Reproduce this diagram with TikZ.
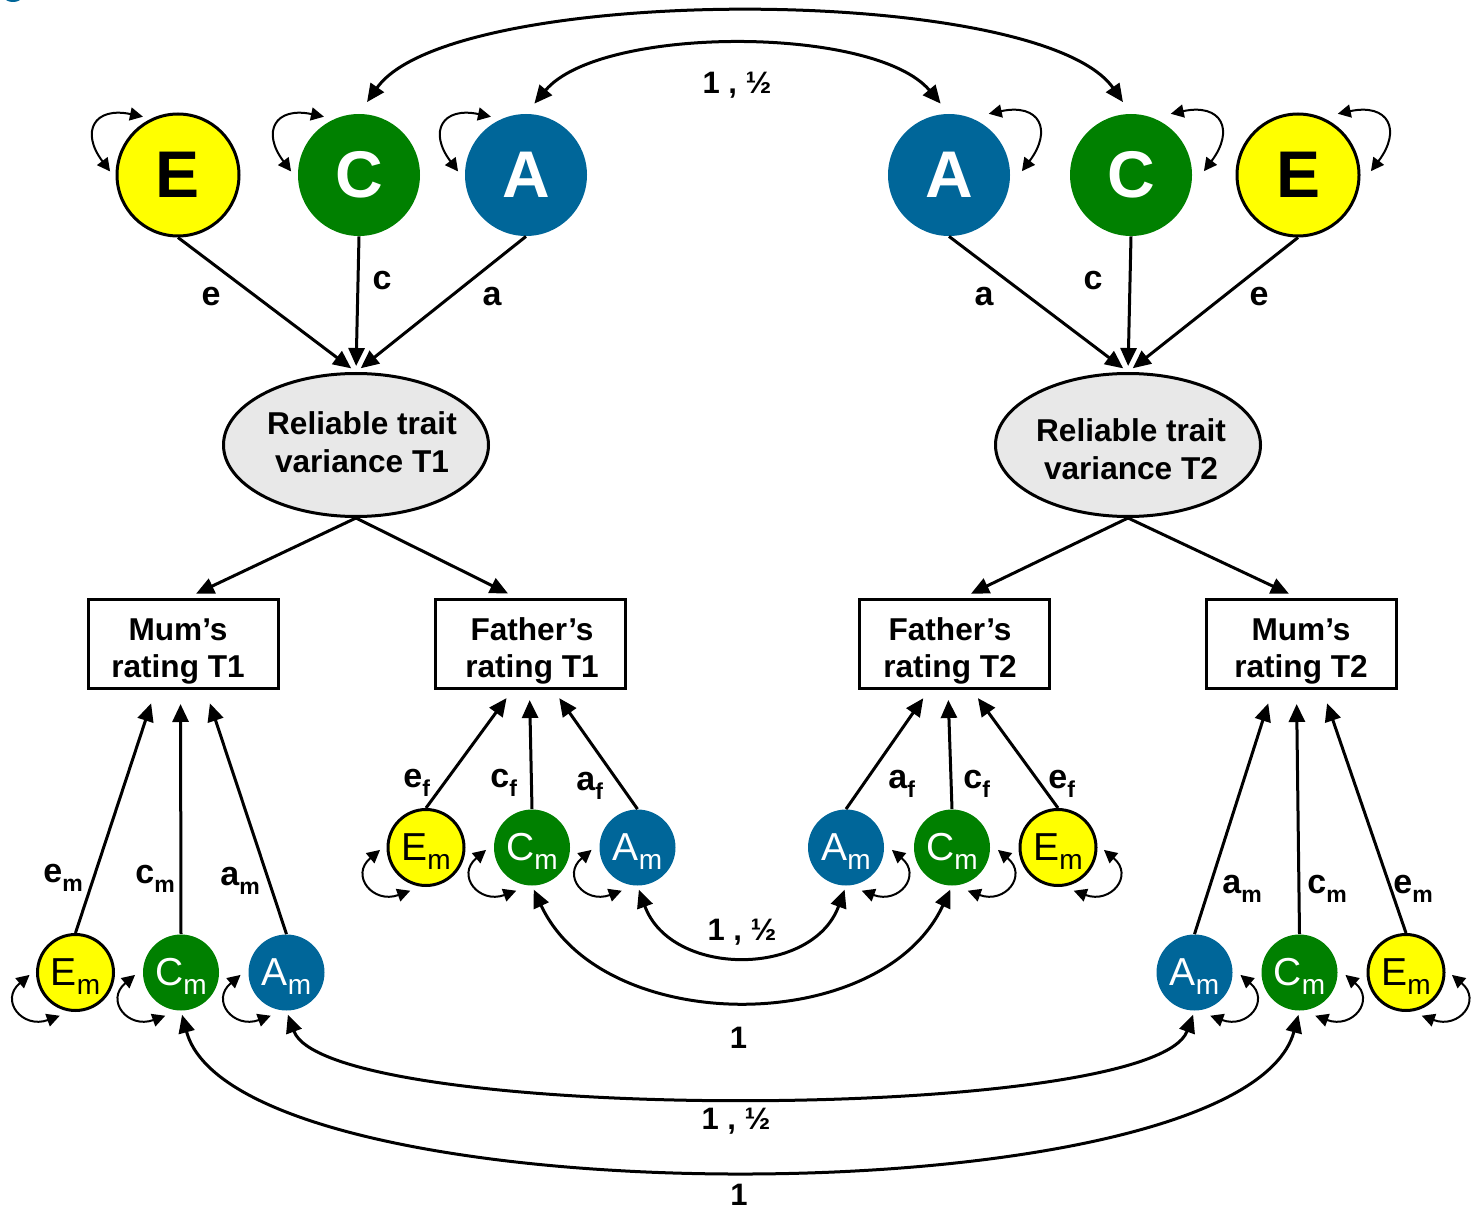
\documentclass[tikz,border=0pt]{standalone}
\usepackage{fontspec}
\setmainfont{Liberation Sans}
\usetikzlibrary{calc,arrows.meta,shapes.geometric}
\definecolor{aceyellow}{RGB}{255,255,0}
\definecolor{acegreen}{RGB}{0,128,0}
\definecolor{aceblue}{RGB}{0,102,153}
\definecolor{latentgrey}{RGB}{232,232,232}

% path label with a lowered subscript
\newcommand\lsub[2]{#1\raisebox{-4.5pt}{\fontsize{11.5}{12}\selectfont #2}}
% circle text with a lowered subscript that does not move the centre
\newcommand\csub[2]{#1\smash{\raisebox{-4.5pt}{\fontsize{14}{14}\selectfont #2}}}
% variance loop: node, start angle, end angle, radius, out, in
\newcommand\vloop[6]{\draw[looparrow] ($(#1)+(#2:#4)$) to[out=#5,in=#6,looseness=2] ($(#1)+(#3:#4)$);}

\begin{document}
\begin{tikzpicture}[x=0.5pt,y=0.5pt,
  bigcirc/.style={circle,minimum size=61pt,inner sep=0pt,font=\fontsize{33}{33}\selectfont\bfseries},
  smallcirc/.style={circle,minimum size=38pt,inner sep=0pt,font=\fontsize{19.5}{20}\selectfont},
  efill/.style={fill=aceyellow,draw=black,line width=1.5pt,text=black},
  cfill/.style={fill=acegreen,text=white},
  afill/.style={fill=aceblue,text=white},
  latent/.style={ellipse,draw,line width=1.5pt,fill=latentgrey,minimum width=132.5pt,minimum height=71.5pt,inner sep=0pt},
  latenttext/.style={align=center,inner sep=0pt,font=\fontsize{15.8}{19}\selectfont\bfseries},
  rating/.style={rectangle,draw,line width=1.5pt,minimum width=95pt,minimum height=44.5pt,inner sep=0pt},
  ratingtext/.style={align=center,inner sep=0pt,font=\fontsize{15.8}{18.5}\selectfont\bfseries},
  onearrow/.style={-{Triangle[length=9pt,width=8pt]},line width=1.5pt},
  twoarrow/.style={{Triangle[length=9pt,width=8pt]}-{Triangle[length=9pt,width=8pt]},line width=1.5pt},
  looparrow/.style={{Triangle[length=6.5pt,width=6.5pt]}-{Triangle[length=6.5pt,width=6.5pt]},line width=1pt},
  plabel/.style={anchor=base west,inner sep=0pt,font=\fontsize{17}{17}\selectfont\bfseries},
  toplabel/.style={inner sep=0pt,font=\fontsize{17}{17}\selectfont\bfseries},
  clabel/.style={inner sep=0pt,font=\fontsize{15.5}{16}\selectfont\bfseries},
]
\fill[white] (0,0) rectangle (1473,-1209);
\useasboundingbox (0,0) rectangle (1473,-1209);
\begin{scope}
\clip (0,0) rectangle (1473,-1209);
\fill[aceblue] (13,12) circle (14);
\end{scope}

% ---- latent A, C, E factors ----
\node[bigcirc,efill] (E1) at (178,-175) {E};
\node[bigcirc,cfill] (C1) at (359,-175) {C};
\node[bigcirc,afill] (A1) at (526,-175) {A};
\node[bigcirc,afill] (A2) at (949,-175) {A};
\node[bigcirc,cfill] (C2) at (1131,-175) {C};
\node[bigcirc,efill] (E2) at (1298,-175) {E};

% ---- reliable trait variance ----
\node[latent] (R1) at (356,-445) {};
\node[latenttext] (R1t) at (362,-442) {Reliable trait\\variance T1};
\node[latent] (R2) at (1128,-445) {};
\node[latenttext] (R2t) at (1131,-449) {Reliable trait\\variance T2};

% ---- observed ratings ----
\node[rating] (M1) at (183.5,-644) {};
\node[ratingtext] (M1t) at (178,-651) {Mum’s\\rating T1};
\node[rating] (F1) at (530.5,-644) {};
\node[ratingtext] (F1t) at (532,-651) {Father’s\\rating T1};
\node[rating] (F2) at (954,-644) {};
\node[ratingtext] (F2t) at (950,-651) {Father’s\\rating T2};
\node[rating] (M2) at (1301.5,-644) {};
\node[ratingtext] (M2t) at (1301,-651) {Mum’s\\rating T2};

% ---- rater-specific factors ----
\node[smallcirc,efill] (EmL) at (75.5,-972.5) {\csub{E}{m}};
\node[smallcirc,cfill] (CmL) at (181,-972.5) {\csub{C}{m}};
\node[smallcirc,afill] (AmL) at (286.5,-972.5) {\csub{A}{m}};
\node[smallcirc,efill] (EfL) at (426,-847.5) {\csub{E}{m}};
\node[smallcirc,cfill] (CfL) at (532,-847.5) {\csub{C}{m}};
\node[smallcirc,afill] (AfL) at (637.5,-847.5) {\csub{A}{m}};
\node[smallcirc,afill] (AfR) at (846,-847.5) {\csub{A}{m}};
\node[smallcirc,cfill] (CfR) at (952,-847.5) {\csub{C}{m}};
\node[smallcirc,efill] (EfR) at (1058,-847.5) {\csub{E}{m}};
\node[smallcirc,afill] (AmR) at (1194.5,-972.5) {\csub{A}{m}};
\node[smallcirc,cfill] (CmR) at (1299.5,-972.5) {\csub{C}{m}};
\node[smallcirc,efill] (EmR) at (1406,-972.5) {\csub{E}{m}};

% ---- paths to reliable trait variance ----
\foreach \src in {E1,C1,A1} \draw[onearrow,shorten >=3pt] (\src.south) -- (R1.north);
\foreach \src in {A2,C2,E2} \draw[onearrow,shorten >=3pt] (\src.south) -- (R2.north);
\node[toplabel] at (211,-297) {e};
\node[toplabel] at (382,-281) {c};
\node[toplabel] at (492,-297) {a};
\node[toplabel] at (984,-297) {a};
\node[toplabel] at (1093,-281) {c};
\node[toplabel] at (1259,-297) {e};

% ---- loadings on the ratings ----
\draw[onearrow,shorten >=5pt] (R1.south) -- ($(M1.north)+(3.5,0)$);
\draw[onearrow,shorten >=5pt] (R1.south) -- ($(F1.north)+(-13.5,0)$);
\draw[onearrow,shorten >=5pt] (R2.south) -- ($(F2.north)+(8,0)$);
\draw[onearrow,shorten >=5pt] (R2.south) -- ($(M2.north)+(-3.5,0)$);

% ---- rater-specific paths ----
\draw[onearrow,shorten >=7pt] (EmL.north) -- ($(M1.south)+(-28,0)$);
\draw[onearrow,shorten >=7pt] (CmL.north) -- ($(M1.south)+(-3,0)$);
\draw[onearrow,shorten >=7pt] (AmL.north) -- ($(M1.south)+(22,0)$);
\draw[onearrow,shorten >=5pt] (EfL.north) -- ($(F1.south)+(-18,0)$);
\draw[onearrow,shorten >=5pt] (CfL.north) -- ($(F1.south)+(-1,0)$);
\draw[onearrow,shorten >=5pt] (AfL.north) -- ($(F1.south)+(23,0)$);
\draw[onearrow,shorten >=5pt] (AfR.north) -- ($(F2.south)+(-25,0)$);
\draw[onearrow,shorten >=5pt] (CfR.north) -- ($(F2.south)+(-6,0)$);
\draw[onearrow,shorten >=5pt] (EfR.north) -- ($(F2.south)+(18,0)$);
\draw[onearrow,shorten >=7pt] (AmR.north) -- ($(M2.south)+(-29,0)$);
\draw[onearrow,shorten >=7pt] (CmR.north) -- ($(M2.south)+(-5,0)$);
\draw[onearrow,shorten >=7pt] (EmR.north) -- ($(M2.south)+(21,0)$);

\node[plabel] at (43,-882) {\lsub{e}{m}};
\node[plabel] at (135,-883) {\lsub{c}{m}};
\node[plabel] at (220,-885) {\lsub{a}{m}};
\node[plabel] at (403,-787) {\lsub{e}{f}};
\node[plabel] at (490,-787) {\lsub{c}{f}};
\node[plabel] at (576,-790) {\lsub{a}{f}};
\node[plabel] at (888,-788) {\lsub{a}{f}};
\node[plabel] at (963,-788) {\lsub{c}{f}};
\node[plabel] at (1048,-788) {\lsub{e}{f}};
\node[plabel] at (1222,-893) {\lsub{a}{m}};
\node[plabel] at (1307,-893) {\lsub{c}{m}};
\node[plabel] at (1393,-893) {\lsub{e}{m}};

% ---- covariances between twins ----
\draw[twoarrow,shorten <=7pt,shorten >=7pt] (C1.north) to[out=55,in=125,looseness=0.53] (C2.north);
\draw[twoarrow,shorten <=6.5pt,shorten >=6.5pt] (A1.north) to[out=50,in=130,looseness=0.7] (A2.north);
\draw[twoarrow,shorten <=2pt,shorten >=2pt] (AfL.south) to[out=-70,in=-110,looseness=1.2] (AfR.south);
\draw[twoarrow,shorten <=2pt,shorten >=2pt] (CfL.south) to[out=-65,in=-115,looseness=1.02] (CfR.south);
\draw[twoarrow,shorten <=2pt,shorten >=2pt] (AmL.south) to[out=-70,in=-110,looseness=0.34] (AmR.south);
\draw[twoarrow,shorten <=2pt,shorten >=2pt] (CmL.south) to[out=-75,in=-105,looseness=0.5] (CmR.south);

\node[clabel] at (737,-85) {1 , ½};
\node[clabel] at (742,-932) {1 , ½};
\node[clabel] at (738.5,-1037.5) {1};
\node[clabel] at (736,-1121) {1 , ½};
\node[clabel] at (739,-1195) {1};

% ---- variances ----
\foreach \n in {E1,C1,A1} {\vloop{\n}{121}{177}{68}{168}{127}}
\foreach \n in {A2,C2,E2} {\vloop{\n}{57}{3}{73}{12}{53}}
\foreach \n in {EmL,CmL,AmL,EfL,CfL,AfL} {\vloop{\n}{183}{250}{46}{220}{200}}
\foreach \n in {AfR,CfR,EfR,AmR,CmR,EmR} {\vloop{\n}{-3}{290}{46}{-40}{-20}}
\end{tikzpicture}
\end{document}
